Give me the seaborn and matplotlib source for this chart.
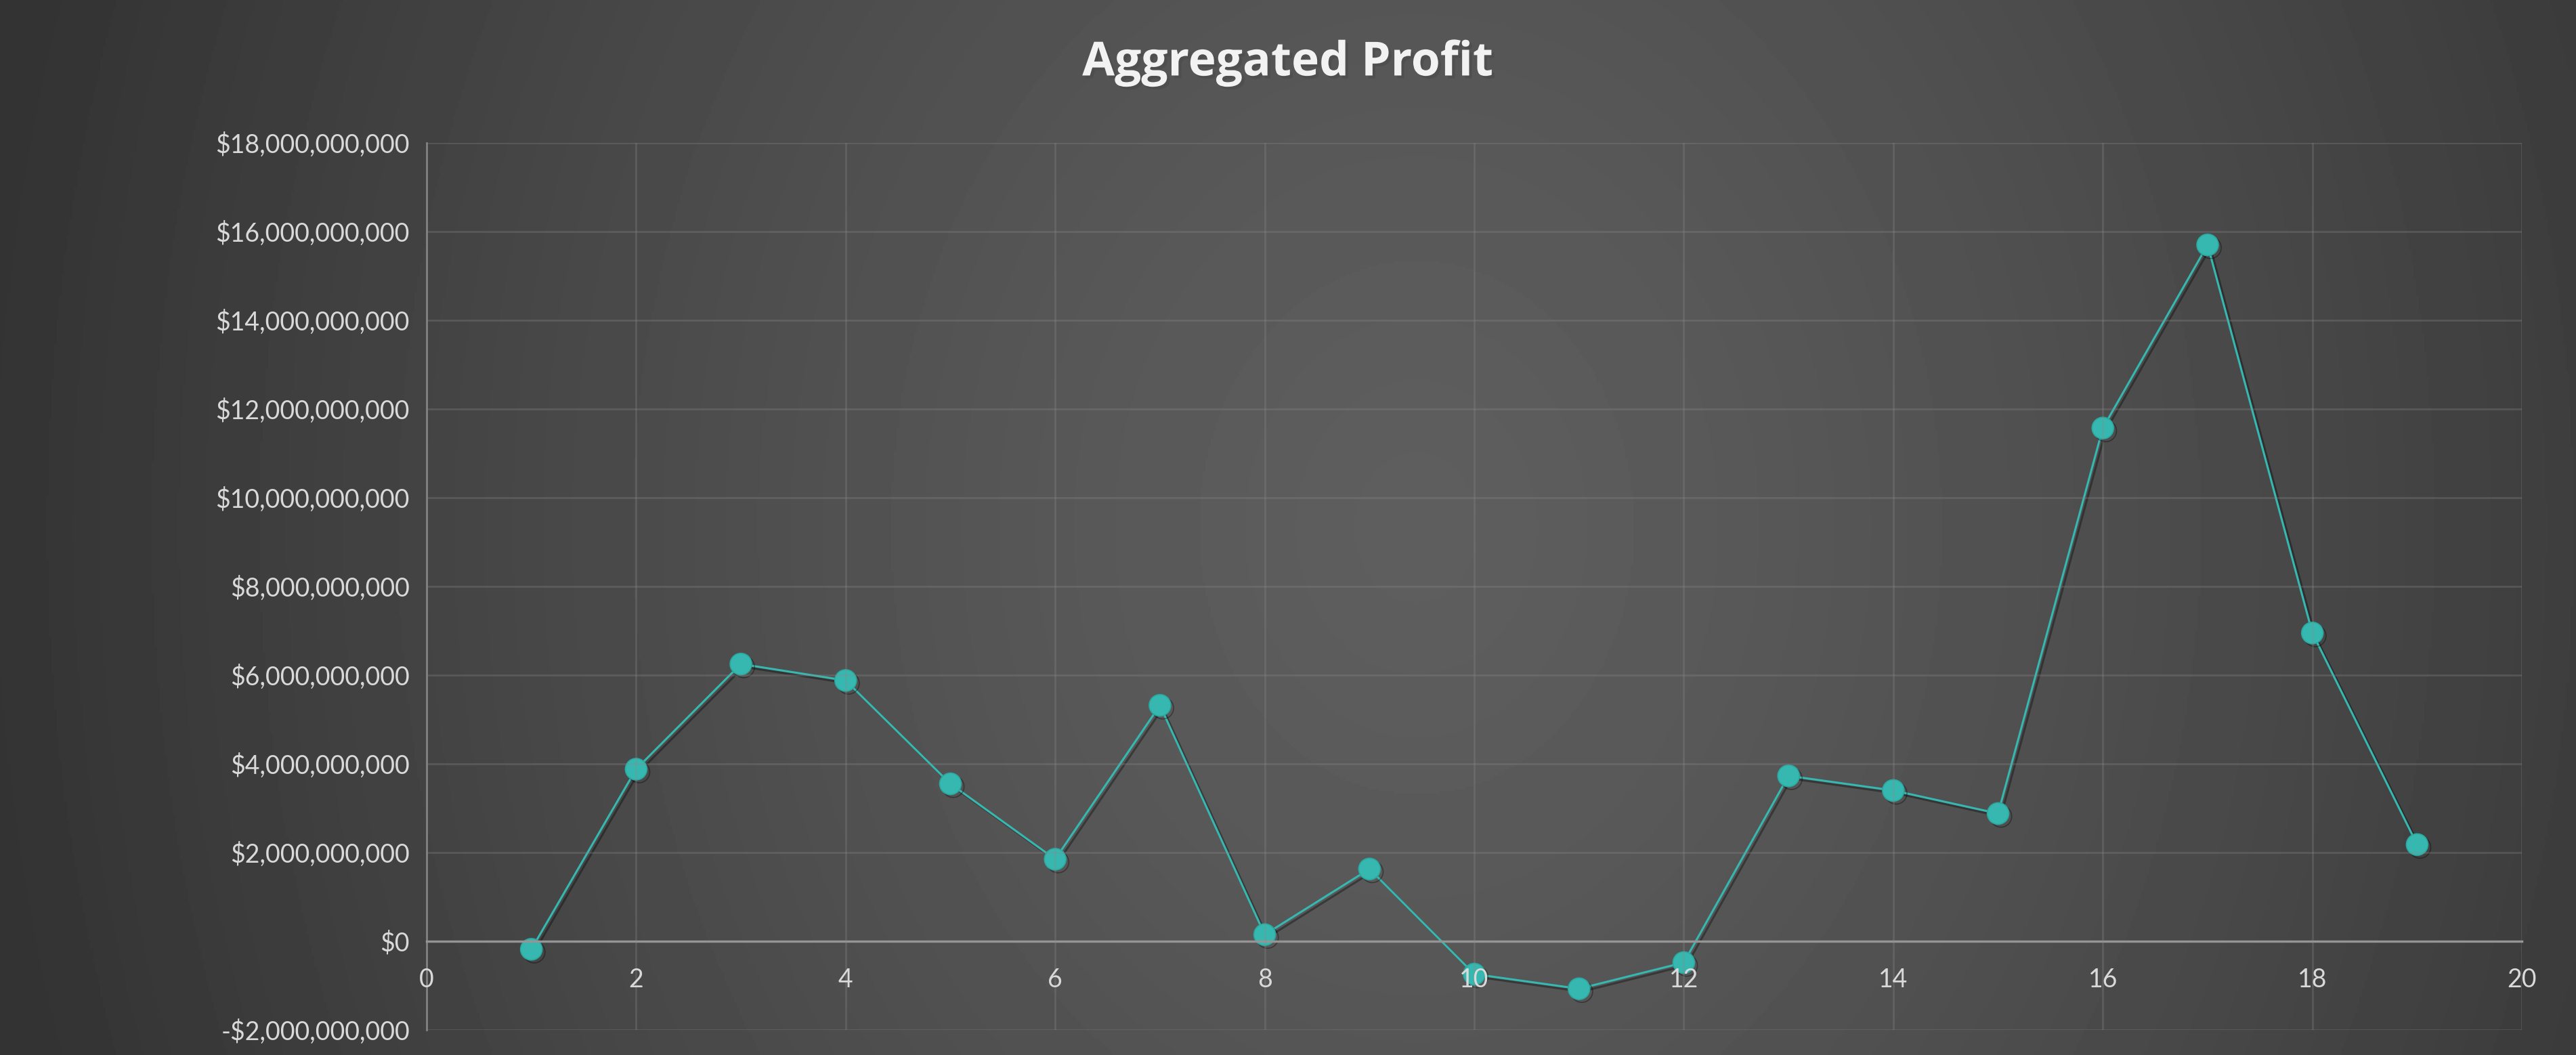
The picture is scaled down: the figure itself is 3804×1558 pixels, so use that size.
import numpy as np
import pandas as pd
import matplotlib.pyplot as plt
import matplotlib.patheffects as pe
from matplotlib.ticker import FuncFormatter, MultipleLocator
import seaborn as sns

# data
period = [1, 2, 3, 4, 5, 6, 7, 8, 9, 10, 11, 12, 13, 14, 15, 16, 17, 18, 19]
profit = [-0.18e9, 3.88e9, 6.25e9, 5.88e9, 3.55e9, 1.85e9, 5.32e9, 0.15e9, 1.63e9,
          -0.74e9, -1.07e9, -0.48e9, 3.73e9, 3.40e9, 2.88e9, 11.57e9, 15.70e9,
          6.95e9, 2.18e9]
x_ticks = list(range(0, 21, 2))

df = pd.DataFrame({"period": period, "profit": profit})

sns.set_style("dark")
plt.rcParams['font.family'] = ['Lato', 'DejaVu Sans']

fig = plt.figure(figsize=(19.02, 7.79), dpi=200)

# background: soft elliptical gradient, light in the middle, dark at the sides
bg = fig.add_axes([0, 0, 1, 1], zorder=0)
yy, xx = np.mgrid[0:1:400j, 0:1:1000j]
r = np.sqrt(((xx - 0.55) / 0.5) ** 2 + ((yy - 0.5) / 1.5) ** 2)
shade = 0.37 - 0.17 * np.clip(r / 1.12, 0, 1) ** 1.3
bg.imshow(shade, cmap="gray", vmin=0, vmax=1, aspect="auto", extent=[0, 1, 0, 1])
bg.axis("off")

ax = fig.add_axes([0.1656, 0.0237, 0.8134, 0.8409], zorder=1)
ax.set_facecolor("none")

sns.lineplot(data=df, x="period", y="profit", ax=ax, color="#36b8b0",
             linewidth=1.1, marker="o", markersize=11.5,
             markeredgecolor="#2aa8a0", markeredgewidth=0.6,
             path_effects=[pe.SimpleLineShadow(offset=(1.5, -1.5), alpha=0.35), pe.Normal()])

ax.set_xlim(0, 20)
ax.set_ylim(-2e9, 18e9)
ax.set_xticks(x_ticks)
ax.yaxis.set_major_locator(MultipleLocator(2e9))
ax.yaxis.set_major_formatter(FuncFormatter(
    lambda v, p: f"-${abs(v):,.0f}" if v < 0 else f"${v:,.0f}"))

# tick labels sit on top of the markers (the "10" overlaps one)
ax.set_axisbelow(False)
ax.grid(True, color="#8a8a8a", alpha=0.3, linewidth=1.0)
for s in ["top", "right"]:
    ax.spines[s].set_visible(False)
ax.spines["left"].set_color("#808080")
ax.spines["left"].set_linewidth(1.0)
ax.spines["bottom"].set_position(("data", 0))
ax.spines["bottom"].set_color("#9a9a9a")
ax.spines["bottom"].set_linewidth(1.2)

ax.tick_params(axis="both", colors="#d9d9d9", labelsize=13.5, length=0)
ax.tick_params(axis="y", pad=9)
ax.tick_params(axis="x", pad=14)
ax.set_xlabel("")
ax.set_ylabel("")

fig.text(0.5, 0.94, "Aggregated Profit", ha="center", va="center",
         fontsize=25, fontweight="bold", color="#f2f2f2", family=["Open Sans", "DejaVu Sans"],
         path_effects=[pe.withSimplePatchShadow(offset=(1.5, -1.5), alpha=0.5)])

fig.savefig("out.png", dpi=200)
